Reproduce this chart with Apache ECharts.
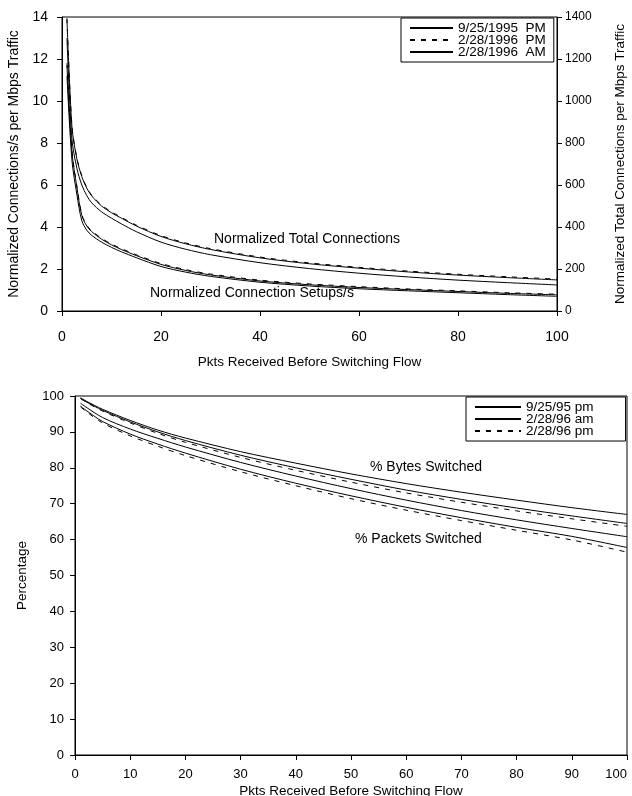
<!DOCTYPE html>
<html>
<head>
<meta charset="utf-8">
<script src="https://cdn.jsdelivr.net/npm/echarts@6/dist/echarts.min.js"></script>
<style>
html,body{margin:0;padding:0;background:#fff;}
#c{width:632px;height:796px;}
</style>
</head>
<body>
<div id="c"></div>
<script>
// ---- Top chart data ----
var xTop = [1,2,3,4,5,6,8,10,12,15,20,25,30,40,50,60,70,80,90,100];
var totalPM95 = [1390,880,725,640,585,548,500,468,442,405,355,320,293,253,225,204,186,171,159,148];
var totalPM96 = [1394,884,729,644,589,552,504,472,446,409,359,324,297,257,229,208,190,175,163,152];
var totalAM96 = [1300,820,680,600,550,515,472,442,415,378,328,294,268,230,202,180,162,147,135,124];
var setupPM95 = [11.7,7.6,5.9,4.55,4.05,3.78,3.42,3.15,2.93,2.64,2.22,1.93,1.72,1.43,1.25,1.12,1.02,0.93,0.84,0.77];
var setupPM96 = [11.8,7.65,5.95,4.6,4.09,3.82,3.46,3.19,2.97,2.68,2.26,1.97,1.76,1.47,1.29,1.16,1.05,0.96,0.87,0.80];
var setupAM96 = [11.2,7.2,5.55,4.3,3.85,3.6,3.28,3.03,2.82,2.54,2.12,1.85,1.65,1.37,1.19,1.06,0.96,0.87,0.78,0.70];
var topLegend = ['9/25/1995  PM','2/28/1996  PM','2/28/1996  AM'];

// ---- Bottom chart data ----
var xBot = [1,2,5,10,15,20,30,40,50,60,70,80,90,100];
var bytesPM95 = [99.5,98.6,96.3,93.2,90.5,88.3,84.5,81.3,78.3,75.6,73.2,71.0,68.9,67.0];
var bytesAM96 = [99.3,98.4,96.0,92.8,90.0,87.6,83.5,80.0,76.8,73.8,71.2,68.8,66.6,64.5];
var bytesPM96 = [99.3,98.3,95.8,92.5,89.6,87.1,82.9,79.3,76.0,73.0,70.4,68.0,65.8,63.7];
var pktsPM95 = [98.0,96.9,94.0,90.8,88.2,85.8,81.5,77.7,74.2,71.0,68.1,65.5,63.1,60.8];
var pktsAM96 = [97.2,96.0,92.9,89.4,86.6,84.1,79.6,75.7,72.2,69.0,66.1,63.4,60.9,57.8];
var pktsPM96 = [97.0,95.7,92.5,88.9,86.0,83.4,78.9,75.0,71.4,68.2,65.3,62.6,59.9,56.5];
var botLegend = ['9/25/95 pm','2/28/96 am','2/28/96 pm'];

function zip(xs, ys){ return xs.map(function(x,i){ return [x, ys[i]]; }); }

var FONT = '"Liberation Sans", Arial, sans-serif';
var black = '#000';

function line(name, xs, ys, xi, yi, dashed){
  return {
    type:'line', name:name, xAxisIndex:xi, yAxisIndex:yi,
    data: zip(xs, ys), symbol:'none', smooth:0.3,
    lineStyle:{color:black, width:1, type: dashed ? [5,6] : 'solid'},
    itemStyle:{color:black},
    emphasis:{disabled:true}, animation:false
  };
}

var axisCommon = {
  axisLine:{show:true, onZero:false, lineStyle:{color:black, width:1}},
  axisTick:{show:true, length:5, lineStyle:{color:black}},
  splitLine:{show:false},
  axisLabel:{color:black, fontFamily:FONT},
  nameTextStyle:{color:black, fontFamily:FONT}
};
function ax(o){ return echarts.util.merge(echarts.util.clone(axisCommon), o, true); }

var option = {
  animation:false,
  textStyle:{fontFamily:FONT, color:black},
  grid:[
    {left:62, right:75, top:17, height:294, show:true, borderColor:black, borderWidth:1,
     containLabel:false, outerBoundsMode:'none'},
    {left:75, right:5, top:396, height:359, show:true, borderColor:black, borderWidth:1,
     containLabel:false, outerBoundsMode:'none'}
  ],
  xAxis:[
    ax({type:'value', gridIndex:0, min:0, max:100, interval:20,
        axisLabel:{fontSize:14, margin:19},
        name:'Pkts Received Before Switching Flow', nameLocation:'middle', nameGap:44,
        nameTextStyle:{fontSize:13.5}}),
    ax({type:'value', gridIndex:1, min:0, max:100, interval:10,
        axisLabel:{fontSize:13, margin:13, alignMaxLabel:'right'},
        name:'Pkts Received Before Switching Flow', nameLocation:'middle', nameGap:29,
        nameTextStyle:{fontSize:13.5}})
  ],
  yAxis:[
    ax({type:'value', gridIndex:0, min:0, max:14, interval:2, position:'left',
        axisLabel:{fontSize:14, margin:14},
        name:'Normalized Connections/s per Mbps Traffic', nameLocation:'middle', nameGap:41,
        nameTextStyle:{fontSize:14}}),
    ax({type:'value', gridIndex:0, min:0, max:1400, interval:200, position:'right',
        axisLabel:{fontSize:12, margin:8, formatter:function(v){return String(v);}},
        name:'Normalized Total Connections per Mbps Traffic', nameLocation:'middle', nameGap:56,
        nameRotate:90, nameTextStyle:{fontSize:13.5}}),
    ax({type:'value', gridIndex:1, min:0, max:100, interval:10,
        axisLabel:{fontSize:13, margin:11},
        name:'Percentage', nameLocation:'middle', nameGap:46,
        nameTextStyle:{fontSize:13.5}})
  ],
  legend:[
    {data:topLegend, orient:'vertical', left:401, top:18, itemWidth:43, itemHeight:10, itemGap:-2,
     padding:[3,8,3,8], backgroundColor:'#fff', borderColor:black, borderWidth:1,
     itemStyle:{color:'rgba(0,0,0,0)', borderWidth:0},
     textStyle:{fontSize:13.5, lineHeight:12, color:black, fontFamily:FONT}, selectedMode:false},
    {data:botLegend, orient:'vertical', left:466, top:397, itemWidth:46, itemHeight:10, itemGap:-2,
     padding:[3,32,3,8], backgroundColor:'#fff', borderColor:black, borderWidth:1,
     itemStyle:{color:'rgba(0,0,0,0)', borderWidth:0},
     textStyle:{fontSize:13.5, lineHeight:12, color:black, fontFamily:FONT}, selectedMode:false}
  ],
  graphic:[
    {type:'text', left:214, top:232, style:{text:'Normalized Total Connections', font:'14px '+FONT, fill:black}},
    {type:'text', left:150, top:286, style:{text:'Normalized Connection Setups/s', font:'14px '+FONT, fill:black}},
    {type:'text', left:370, top:460, style:{text:'% Bytes Switched', font:'14px '+FONT, fill:black}},
    {type:'text', left:355, top:532, style:{text:'% Packets Switched', font:'14px '+FONT, fill:black}}
  ],
  series:[
    line(topLegend[0], xTop, totalPM95, 0, 1, false),
    line(topLegend[1], xTop, totalPM96, 0, 1, true),
    line(topLegend[2], xTop, totalAM96, 0, 1, false),
    line(topLegend[0], xTop, setupPM95, 0, 0, false),
    line(topLegend[1], xTop, setupPM96, 0, 0, true),
    line(topLegend[2], xTop, setupAM96, 0, 0, false),
    line(botLegend[0], xBot, bytesPM95, 1, 2, false),
    line(botLegend[1], xBot, bytesAM96, 1, 2, false),
    line(botLegend[2], xBot, bytesPM96, 1, 2, true),
    line(botLegend[0], xBot, pktsPM95, 1, 2, false),
    line(botLegend[1], xBot, pktsAM96, 1, 2, false),
    line(botLegend[2], xBot, pktsPM96, 1, 2, true)
  ]
};

var chart = echarts.init(document.getElementById('c'), null, {renderer:'canvas'});
chart.setOption(option);
</script>
</body>
</html>
